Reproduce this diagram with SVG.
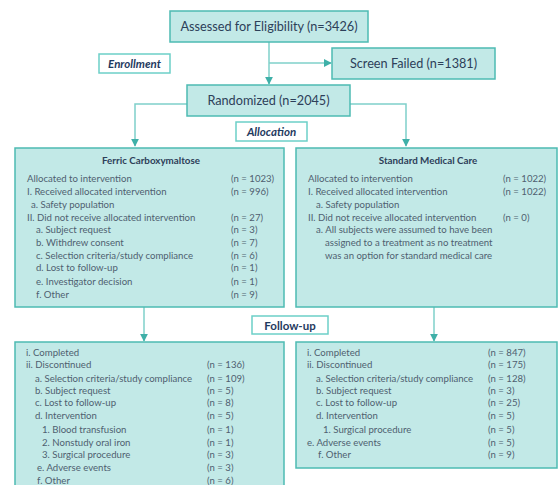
<svg xmlns="http://www.w3.org/2000/svg" width="558" height="485" viewBox="0 0 558 485">
<defs>
<style>
.box{fill:#c2e9e7;stroke:#4dbbb3;stroke-width:1.5}
.lbl{fill:#ffffff;stroke:#6ccfc8;stroke-width:1.5}
.big{font-family:Lato,"Liberation Sans",sans-serif;font-size:12.7px;fill:#2d4059;text-anchor:middle}
.tag{font-family:Lato,"Liberation Sans",sans-serif;font-size:11.5px;font-weight:bold;font-style:italic;fill:#1f3a60;text-anchor:middle}
.tag2{font-family:Lato,"Liberation Sans",sans-serif;font-size:11.5px;font-weight:bold;fill:#1f3a60;text-anchor:middle}
.hd{font-family:Lato,"Liberation Sans",sans-serif;font-size:9.8px;font-weight:bold;fill:#2d4059;text-anchor:middle}
.t{font-family:Lato,"Liberation Sans",sans-serif;font-size:9.6px;fill:#4f5f70}
.c{fill:none;stroke:#7fd0ca;stroke-width:1.5}
</style>
<marker id="ar" viewBox="0 0 10 10" refX="9" refY="5" markerWidth="8" markerHeight="8" markerUnits="userSpaceOnUse" orient="auto">
<path d="M0,0 L10,5 L0,10 z" fill="#3fb0a8"/>
</marker>
</defs>

<g id="connectors">
<path class="c" d="M269,42 V84" marker-end="url(#ar)"/>
<path class="c" d="M269,63 H331" marker-end="url(#ar)"/>
<path class="c" d="M187,104 H135 V146" marker-end="url(#ar)"/>
<path class="c" d="M350,104 H406 V146" marker-end="url(#ar)"/>
<path class="c" d="M144,307 V341" marker-end="url(#ar)"/>
<path class="c" d="M434,307 V341" marker-end="url(#ar)"/>
</g>

<g id="assessed">
<rect class="box" x="170" y="11" width="198" height="31"/>
<text class="big" x="269" y="31">Assessed for Eligibility (n=3426)</text>
</g>
<g id="enrollment">
<rect class="lbl" x="99" y="54" width="71" height="19"/>
<text class="tag" x="134.5" y="68">Enrollment</text>
</g>
<g id="screenfailed">
<rect class="box" x="332" y="48" width="163" height="31"/>
<text class="big" x="413.5" y="68">Screen Failed (n=1381)</text>
</g>
<g id="randomized">
<rect class="box" x="187" y="85" width="163" height="31"/>
<text class="big" x="268.5" y="105">Randomized (n=2045)</text>
</g>
<g id="allocation">
<rect class="lbl" x="236" y="122" width="71" height="19"/>
<text class="tag" x="271.5" y="136">Allocation</text>
</g>

<g id="fcm">
<rect class="box" x="15" y="148" width="269" height="159"/>
<text class="hd" x="151" y="164">Ferric Carboxymaltose</text>
<text class="t" x="27" y="182">Allocated to intervention</text><text class="t" x="231" y="182">(n = 1023)</text>
<text class="t" x="27" y="195">I. Received allocated intervention</text><text class="t" x="231" y="195">(n = 996)</text>
<text class="t" x="31" y="207.5">a. Safety population</text>
<text class="t" x="27" y="221">II. Did not receive allocated intervention</text><text class="t" x="231" y="221">(n = 27)</text>
<text class="t" x="36" y="233">a. Subject request</text><text class="t" x="231" y="233">(n = 3)</text>
<text class="t" x="36" y="245.5">b. Withdrew consent</text><text class="t" x="231" y="245.5">(n = 7)</text>
<text class="t" x="36" y="258.5">c. Selection criteria/study compliance</text><text class="t" x="231" y="258.5">(n = 6)</text>
<text class="t" x="36" y="271">d. Lost to follow-up</text><text class="t" x="231" y="271">(n = 1)</text>
<text class="t" x="36" y="284.5">e. Investigator decision</text><text class="t" x="231" y="284.5">(n = 1)</text>
<text class="t" x="36" y="297.5">f. Other</text><text class="t" x="231" y="297.5">(n = 9)</text>
</g>

<g id="smc">
<rect class="box" x="296" y="148" width="261" height="159"/>
<text class="hd" x="428" y="164">Standard Medical Care</text>
<text class="t" x="308" y="182">Allocated to intervention</text><text class="t" x="503" y="182">(n = 1022)</text>
<text class="t" x="308" y="195">I. Received allocated intervention</text><text class="t" x="503" y="195">(n = 1022)</text>
<text class="t" x="316" y="207.5">a. Safety population</text>
<text class="t" x="308" y="221">II. Did not receive allocated intervention</text><text class="t" x="503" y="221">(n = 0)</text>
<text class="t" x="316" y="233">a. All subjects were assumed to have been</text>
<text class="t" x="325" y="245.5">assigned to a treatment as no treatment</text>
<text class="t" x="325" y="258.5">was an option for standard medical care</text>
</g>

<g id="followup">
<rect class="lbl" x="252" y="316" width="76" height="18"/>
<text class="tag2" x="290" y="329.5">Follow-up</text>
</g>

<g id="fcm-follow">
<rect class="box" x="15" y="342" width="269" height="150"/>
<text class="t" x="26" y="355.5">i. Completed</text>
<text class="t" x="26" y="368">ii. Discontinued</text><text class="t" x="207" y="368">(n = 136)</text>
<text class="t" x="35" y="381.5">a. Selection criteria/study compliance</text><text class="t" x="207" y="381.5">(n = 109)</text>
<text class="t" x="35" y="394">b. Subject request</text><text class="t" x="207" y="394">(n = 5)</text>
<text class="t" x="35" y="406">c. Lost to follow-up</text><text class="t" x="207" y="406">(n = 8)</text>
<text class="t" x="35" y="419">d. Intervention</text><text class="t" x="207" y="419">(n = 5)</text>
<text class="t" x="42" y="432.5">1. Blood transfusion</text><text class="t" x="207" y="432.5">(n = 1)</text>
<text class="t" x="42" y="445.5">2. Nonstudy oral iron</text><text class="t" x="207" y="445.5">(n = 1)</text>
<text class="t" x="42" y="458">3. Surgical procedure</text><text class="t" x="207" y="458">(n = 3)</text>
<text class="t" x="37" y="470.5">e. Adverse events</text><text class="t" x="207" y="470.5">(n = 3)</text>
<text class="t" x="37" y="483.5">f. Other</text><text class="t" x="207" y="483.5">(n = 6)</text>
</g>

<g id="smc-follow">
<rect class="box" x="296" y="342" width="261" height="126"/>
<text class="t" x="307" y="355.5">i. Completed</text><text class="t" x="488" y="355.5">(n = 847)</text>
<text class="t" x="307" y="368">ii. Discontinued</text><text class="t" x="488" y="368">(n = 175)</text>
<text class="t" x="316" y="381.5">a. Selection criteria/study compliance</text><text class="t" x="488" y="381.5">(n = 128)</text>
<text class="t" x="316" y="394">b. Subject request</text><text class="t" x="488" y="394">(n = 3)</text>
<text class="t" x="316" y="406">c. Lost to follow-up</text><text class="t" x="488" y="406">(n = 25)</text>
<text class="t" x="316" y="419">d. Intervention</text><text class="t" x="488" y="419">(n = 5)</text>
<text class="t" x="323" y="432.5">1. Surgical procedure</text><text class="t" x="488" y="432.5">(n = 5)</text>
<text class="t" x="307" y="445.5">e. Adverse events</text><text class="t" x="488" y="445.5">(n = 5)</text>
<text class="t" x="318" y="458">f. Other</text><text class="t" x="488" y="458">(n = 9)</text>
</g>
</svg>
